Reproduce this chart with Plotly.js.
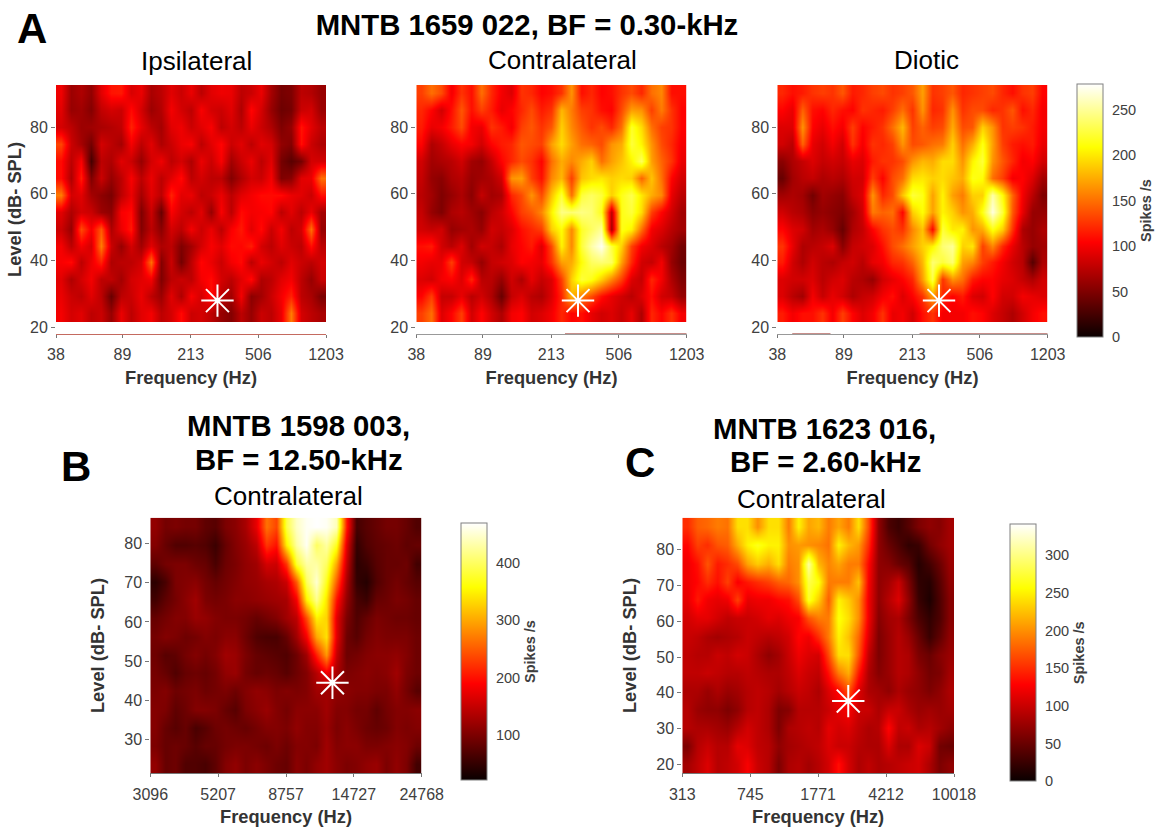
<!DOCTYPE html>
<html>
<head>
<meta charset="utf-8">
<script src="https://cdn.plot.ly/plotly-3.0.1.min.js"></script>
<style>html,body{margin:0;padding:0;background:#fff}</style>
</head>
<body>
<div id="chart" style="width:1159px;height:830px"></div>
<script>
const ticksA = [38, 89, 213, 506, 1203];
const ticksB = [3096, 5207, 8757, 14727, 24768];
const ticksC = [313, 745, 1771, 4212, 10018];
const levelsA = [20, 40, 60, 80];
const levelsB = [30, 40, 50, 60, 70, 80];
const levelsC = [20, 30, 40, 50, 60, 70, 80];
const cbTicksA = [0, 50, 100, 150, 200, 250];
const cbTicksB = [100, 200, 300, 400];
const cbTicksC = [0, 50, 100, 150, 200, 250, 300];

// spike rates, rows listed from the highest level down to the lowest
const ipsi = [
[98,62,70,58,92,112,114,88,96,68,76,92,82,96,76,92,98,96,76,82,96,66,46,50,76,72,60],
[92,60,64,52,78,86,82,108,86,62,72,100,86,76,102,86,82,92,70,106,86,60,42,46,82,86,62],
[86,76,62,64,68,72,78,118,94,76,66,92,98,82,92,102,76,86,76,96,82,70,50,60,112,92,76],
[132,82,66,45,86,76,66,100,76,92,70,82,96,102,76,92,106,82,92,76,92,86,58,52,110,82,70],
[108,76,102,25,76,70,92,82,60,86,98,76,86,70,96,82,102,65,82,96,76,92,46,34,46,86,86],
[108,70,116,50,82,60,76,102,76,96,76,92,108,76,86,76,76,52,70,86,82,100,50,55,92,96,150],
[155,86,92,66,56,48,76,96,66,92,76,118,92,96,76,82,96,76,92,100,108,108,108,96,92,82,110],
[92,70,86,82,62,56,102,108,50,82,40,102,86,76,92,60,102,76,108,100,102,106,76,92,76,96,66],
[82,60,135,100,140,70,96,114,52,76,55,86,76,100,82,96,76,102,114,92,108,82,100,76,86,150,60],
[100,76,100,86,155,82,60,86,65,92,70,76,50,65,86,102,92,108,106,116,86,76,92,82,76,110,76],
[102,108,76,96,118,70,76,76,86,150,52,82,45,76,106,96,82,100,108,76,96,86,76,92,82,76,86],
[92,70,86,100,76,78,65,86,92,100,50,76,82,76,100,108,86,76,92,108,70,76,92,100,76,60,82],
[96,82,76,92,76,40,76,82,96,76,62,92,70,102,86,110,76,65,100,55,65,82,100,118,76,68,48],
[100,86,92,76,82,60,96,76,92,100,76,86,108,82,86,76,60,52,76,60,82,76,96,155,86,76,68]
];
const contraA = [
[130,150,135,100,125,110,150,120,100,90,125,120,105,110,125,165,110,120,105,110,125,135,120,150,160,110,110],
[120,105,85,110,140,110,130,115,95,105,120,135,115,125,180,155,130,125,110,105,135,170,165,130,155,125,105],
[115,95,100,115,135,100,95,125,115,100,130,140,125,140,190,160,140,125,135,120,150,220,195,150,130,125,105],
[105,70,80,95,105,100,85,105,115,120,140,135,130,170,195,170,150,145,135,165,175,225,205,165,135,120,100],
[85,65,70,75,85,65,60,80,105,120,135,125,105,150,175,160,175,190,150,170,185,205,235,170,145,125,95],
[80,60,55,70,75,60,65,70,85,165,170,130,110,160,180,130,185,195,200,190,195,190,145,185,150,105,85],
[75,65,50,60,70,55,80,65,70,120,135,165,135,185,225,150,225,235,225,190,215,230,200,175,160,95,75],
[80,60,50,70,75,65,55,75,85,105,130,140,160,205,245,240,245,240,215,75,215,225,195,130,105,85,65],
[85,80,85,60,65,70,60,85,80,90,110,120,130,190,210,160,220,235,250,65,215,205,150,100,90,75,65],
[110,115,85,75,90,65,85,80,70,95,105,115,90,135,205,160,225,255,275,225,190,130,100,90,75,65,45],
[100,95,95,130,85,80,60,80,85,90,105,100,95,125,170,175,210,235,240,235,170,120,85,80,100,60,42],
[90,85,100,105,90,120,75,75,60,85,70,95,80,90,130,190,225,215,190,160,130,90,80,120,100,70,50],
[105,130,80,80,95,75,85,70,40,80,90,75,70,90,120,180,155,135,110,95,85,75,90,110,85,80,60],
[130,150,90,105,130,85,105,85,70,100,105,85,90,100,120,105,110,95,85,90,80,95,70,120,105,125,100]
];
const diotic = [
[120,110,115,125,130,125,140,115,120,130,135,125,130,140,170,125,130,140,120,125,130,135,120,110,125,130,105],
[105,95,145,110,105,120,110,105,125,120,115,130,150,125,165,120,125,165,125,135,135,120,125,140,110,120,100],
[90,90,165,105,95,110,100,130,105,115,125,150,180,130,145,130,135,175,135,140,190,165,125,130,125,115,100],
[85,75,145,95,85,100,85,125,100,125,120,130,165,135,140,150,155,190,150,175,215,170,130,115,110,115,95],
[55,70,80,90,80,85,80,95,90,115,125,125,135,165,180,175,195,195,165,205,225,165,140,120,100,105,85],
[40,65,75,80,70,75,70,85,85,130,105,135,150,195,200,190,195,185,175,215,210,150,130,100,105,90,65],
[65,70,65,45,65,60,55,80,90,165,120,135,185,225,215,170,205,170,155,190,190,255,210,145,100,75,50],
[85,75,70,55,60,55,50,65,85,155,145,150,105,190,210,170,205,190,165,175,215,270,225,140,95,60,60],
[105,90,85,65,70,60,40,70,80,105,125,135,125,160,185,105,225,200,205,165,175,215,190,125,70,60,70],
[125,95,70,75,80,90,55,80,85,90,110,135,150,170,190,205,240,250,190,200,130,160,120,95,75,60,65],
[115,85,70,85,75,70,80,85,75,95,100,120,125,145,180,240,225,240,170,160,130,115,100,85,75,32,70],
[90,85,85,90,75,85,90,75,70,60,85,95,105,120,170,230,125,165,150,115,105,105,95,90,80,70,85],
[90,75,65,100,80,95,85,70,80,85,100,110,90,105,125,170,120,105,115,90,85,105,85,85,100,95,90],
[115,100,110,110,125,100,130,105,90,100,125,95,100,85,110,125,100,100,100,110,105,90,80,70,85,100,110]
];
const contraB = [
[115,95,100,95,95,80,75,100,110,130,175,265,235,390,445,465,470,465,440,205,62,75,85,95,95,85,70],
[105,85,70,70,75,70,55,85,105,120,145,225,200,350,430,465,400,430,370,170,50,70,80,85,90,80,85],
[80,95,100,100,90,85,65,90,100,115,125,160,155,225,380,430,430,400,300,150,45,55,75,85,85,90,60],
[45,65,100,105,110,95,85,95,105,115,120,130,135,155,250,400,450,370,250,130,50,40,70,85,95,85,75],
[60,80,95,110,125,100,95,100,110,110,115,120,125,130,185,350,420,340,200,115,65,55,85,90,100,95,85],
[85,95,105,105,120,115,105,100,100,95,85,95,105,125,145,240,350,330,170,100,70,85,100,95,90,90,85],
[95,105,100,90,95,105,100,110,110,90,70,65,65,85,125,185,300,340,170,90,75,95,105,100,100,100,90],
[90,75,80,95,105,95,105,125,120,100,85,80,75,70,90,125,210,290,150,90,95,105,110,110,115,105,90],
[95,85,70,85,90,85,95,115,120,95,85,90,85,75,90,105,140,180,130,100,105,110,105,110,125,100,90],
[100,105,90,95,100,90,95,100,90,105,115,110,100,105,100,105,125,125,115,110,105,105,100,100,115,95,75],
[105,100,80,90,105,105,100,85,75,100,110,120,105,95,110,110,110,125,105,105,95,95,80,95,105,105,110],
[105,85,75,85,65,75,90,95,90,85,95,105,105,100,115,105,105,120,100,110,100,90,85,90,105,100,105],
[100,85,90,85,75,85,85,95,100,100,95,90,100,90,105,105,100,125,105,110,110,100,100,105,110,105,90],
[115,85,90,70,70,65,80,105,115,100,110,100,90,85,110,100,115,125,110,100,105,115,120,100,115,100,60]
];
const contraC = [
[150,175,180,190,185,240,240,200,240,240,190,250,210,220,190,210,190,240,165,70,35,25,40,60,70,65,80],
[130,160,150,170,175,215,250,265,250,250,200,205,200,195,185,250,220,205,150,70,50,35,20,25,55,70,80],
[120,135,170,140,150,165,210,230,215,240,190,200,310,220,195,210,190,190,130,70,65,50,40,15,30,50,75],
[120,130,150,135,160,125,140,150,160,175,180,200,280,260,190,190,190,225,125,70,80,100,60,20,15,40,70],
[115,140,120,115,120,160,115,120,120,130,135,165,270,230,175,250,230,200,120,70,90,110,70,25,10,35,65],
[105,115,115,105,95,100,100,105,115,110,120,125,170,190,190,260,240,200,120,65,80,85,60,35,20,35,65],
[100,95,85,80,85,90,100,95,90,95,105,130,120,150,190,250,225,180,110,60,75,90,75,50,25,45,70],
[95,90,90,100,95,105,100,85,70,80,100,120,110,105,165,240,240,170,95,60,75,90,85,60,50,65,75],
[95,95,100,95,90,90,95,90,85,85,95,110,100,95,135,190,215,140,85,65,75,90,85,70,55,60,80],
[85,85,75,85,75,80,90,95,90,80,90,100,95,85,110,130,170,110,85,80,70,85,75,70,60,70,85],
[90,75,70,70,60,70,90,95,85,60,65,90,90,90,100,115,125,100,100,85,100,100,85,75,80,75,80],
[90,85,85,80,75,90,105,95,85,60,85,90,95,90,115,105,110,95,85,90,130,95,100,85,90,80,70],
[60,90,100,90,90,115,110,95,90,70,80,85,90,95,110,100,100,90,85,85,110,85,85,110,100,55,50],
[80,95,110,90,95,105,125,100,90,60,85,90,80,90,105,135,105,85,95,85,90,95,100,105,85,60,70]
];
// the image's darker rows that show along the lower axis line of the top panels
const edgeContraX = [254, 1203];
const edgeContraY = [18, 18];
const edgeDioticX = [46, 75, null, 234, 1203];
const edgeDioticY = [18, 18, null, 18, 18];

const FONT = 'Liberation Sans, Arial, sans-serif';
const W = 1159, H = 830;
const HOT = [[0,'#0a0000'],[0.375,'#ff0000'],[0.75,'#ffff00'],[1,'#ffffff']];
const px = v => v / W;
const py = v => 1 - v / H;

function logCentres(lo, hi, n) {
  const out = [];
  for (let i = 0; i < n; i++) out.push(lo * Math.pow(hi / lo, (i + 0.5) / n));
  return out;
}
function linCentres(lo, hi, n) {
  const out = [];
  for (let i = 0; i < n; i++) out.push(lo + (hi - lo) * (i + 0.5) / n);
  return out;
}

const panels = [
  {z: ipsi,     fx:[38,1203],    img:[21.7,92.6], yr:[18,92.6],    dx:[56,326],       dy:[85,334],      t:ticksA, l:levelsA, zr:[0,278.6], star:[300,28],    yt:3, line:'#c46a60'},
  {z: contraA,  fx:[38,1203],    img:[21.7,92.6], yr:[18,92.6],    dx:[416.3,686.7],  dy:[85,334],      t:ticksA, l:levelsA, zr:[0,278.6], star:[300,28],    line:'#999999', edge:[edgeContraX, edgeContraY]},
  {z: diotic,   fx:[38,1203],    img:[21.7,92.6], yr:[18,92.6],    dx:[777.3,1047.7], dy:[85,334],      t:ticksA, l:levelsA, zr:[0,278.6], star:[300,28],    line:'#999999', edge:[edgeDioticX, edgeDioticY],
   cb:{x:1077, top:84, len:253, ticks:cbTicksA}},
  {z: contraB,  fx:[3096,24768], img:[21.4,86.6], yr:[21.4,86.6],  dx:[150.3,421.7],  dy:[517.7,773.3], t:ticksB, l:levelsB, zr:[21.5,470], star:[12500,44.5], yt:14, line:'#777777',
   cb:{x:460.7, top:523, len:257, ticks:cbTicksB}},
  {z: contraC,  fx:[313,10018],  img:[17.5,89],   yr:[17.5,89],    dx:[682.3,954],    dy:[517.7,773.3], t:ticksC, l:levelsC, zr:[0,341],   star:[2600,37.7],  yt:14, line:'#777777',
   cb:{x:1010, top:524.3, len:257.4, ticks:cbTicksC}}
];

const axisTick = {family: FONT, size: 16, color: '#404040'};
const axisTitle = {family: FONT, size: 18.3, color: '#333333', weight: 700};
const traces = [];
const layout = {
  width: W, height: H,
  margin: {l:0, r:0, t:0, b:0, pad:0, autoexpand:false},
  paper_bgcolor: '#ffffff', plot_bgcolor: '#ffffff',
  showlegend: false,
  font: {family: FONT},
  title: {text: 'MNTB 1659 022, BF = 0.30-kHz', x: px(527), y: py(25), xref:'paper', yref:'paper',
          xanchor:'center', yanchor:'middle', font:{family:FONT, size:29.3, color:'#000', weight:700}},
  annotations: [],
  shapes: [{type:'rect', xref:'paper', yref:'paper', x0:px(20), x1:px(30), y0:py(200), y1:py(118),
            fillcolor:'#ffffff', line:{width:0}, layer:'above'}]
};

panels.forEach((p, i) => {
  const n = i === 0 ? '' : String(i + 1);
  const rows = p.z.slice().reverse();
  const hm = {
    type: 'heatmap',
    x: logCentres(p.fx[0], p.fx[1], rows[0].length),
    y: linCentres(p.img[0], p.img[1], rows.length),
    z: rows,
    zmin: p.zr[0], zmax: p.zr[1],
    zsmooth: 'best',
    colorscale: HOT,
    showscale: !!p.cb,
    hoverinfo: 'skip',
    xaxis: 'x' + n, yaxis: 'y' + n
  };
  if (p.cb) {
    hm.colorbar = {
      x: px(p.cb.x), xanchor: 'left', xref: 'paper', xpad: 0,
      y: py(p.cb.top), yanchor: 'top', yref: 'paper', ypad: 0,
      len: p.cb.len, lenmode: 'pixels', thickness: 26, thicknessmode: 'pixels',
      outlinecolor: '#808080', outlinewidth: 1,
      tickmode: 'array', tickvals: p.cb.ticks, ticktext: p.cb.ticks.map(String),
      ticks: 'outside', ticklen: 6, tickcolor: 'rgba(0,0,0,0)', tickfont: {family: FONT, size: 14.5, color: '#404040'},
      title: {text: 'Spikes /s', side: 'right', font: {family: FONT, size: 14.5, color: '#404040', weight: 700}}
    };
  }
  traces.push(hm);
  if (p.edge) {
    traces.push({
      type: 'scatter', mode: 'lines', x: p.edge[0], y: p.edge[1], cliponaxis: false,
      line: {color: '#8f1d14', width: 1}, hoverinfo: 'skip', xaxis: 'x' + n, yaxis: 'y' + n
    });
  }
  traces.push({
    type: 'scatter', mode: 'markers', x: [p.star[0]], y: [p.star[1]],
    marker: {symbol: 'asterisk-open', size: 27, color: '#ffffff', line: {color: '#ffffff', width: 2}},
    hoverinfo: 'skip', xaxis: 'x' + n, yaxis: 'y' + n
  });
  layout['xaxis' + n] = {
    type: 'log', domain: [px(p.dx[0]), px(p.dx[1])],
    range: [Math.log10(p.fx[0]), Math.log10(p.fx[1])],
    anchor: 'y' + n, tickmode: 'array', tickvals: p.t, ticktext: p.t.map(String),
    ticks: 'outside', ticklen: 3, tickcolor: '#777', showgrid: false, zeroline: false,
    showline: true, linecolor: p.line, linewidth: 1, tickangle: 0, tickfont: axisTick,
    ticklabelstandoff: 3,
    title: {text: 'Frequency (Hz)', font: axisTitle, standoff: 8}
  };
  layout['yaxis' + n] = {
    domain: [py(p.dy[1]), py(p.dy[0])], range: p.yr,
    anchor: 'x' + n, tickmode: 'array', tickvals: p.l, ticktext: p.l.map(String),
    ticks: 'outside', ticklen: 4, tickcolor: '#777', showgrid: false, zeroline: false,
    showline: false, tickfont: axisTick,
    title: p.yt ? {text: 'Level (dB- SPL)', font: axisTitle, standoff: p.yt} : undefined
  };
});

function note(text, x, y, size, bold) {
  layout.annotations.push({
    text, x: px(x), y: py(y), xref: 'paper', yref: 'paper', xanchor: 'center', yanchor: 'middle',
    showarrow: false, font: {family: FONT, size, color: '#000', weight: bold ? 700 : 400}
  });
}
note('A', 31.5, 28, 42, true);
note('B', 76, 466, 42, true);
note('C', 640, 462, 42, true);
note('Ipsilateral', 196, 61, 26);
note('Contralateral', 562.7, 60, 26);
note('Diotic', 926, 60, 26);
note('MNTB 1598 003,', 298.5, 425, 29.3, true);
note('BF = 12.50-kHz', 298.5, 459, 29.3, true);
note('Contralateral', 288.7, 496, 26);
note('MNTB 1623 016,', 824, 428, 29.3, true);
note('BF = 2.60-kHz', 825, 461, 29.3, true);
note('Contralateral', 811.7, 499, 26);

Plotly.newPlot('chart', traces, layout, {displayModeBar: false, staticPlot: true});
</script>
</body>
</html>
